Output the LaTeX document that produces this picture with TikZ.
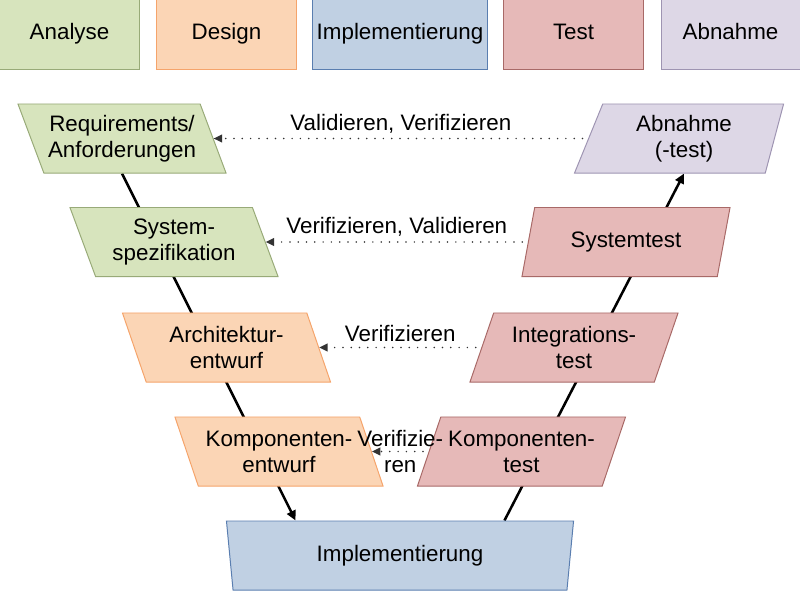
\documentclass[tikz,border=0pt]{standalone}
\usepackage{fontspec}
\setmainfont{Liberation Sans}
\usetikzlibrary{shapes.geometric,arrows.meta,calc,backgrounds}

\definecolor{grnfill}{HTML}{D7E4BD}
\definecolor{grnline}{RGB}{152,170,120}
\definecolor{orafill}{HTML}{FBD5B5}
\definecolor{oraline}{RGB}{245,164,107}
\definecolor{blufill}{RGB}{192,208,227}
\definecolor{bluline}{RGB}{90,126,176}
\definecolor{redfill}{HTML}{E6B9B8}
\definecolor{redline}{RGB}{168,105,103}
\definecolor{viofill}{RGB}{221,215,230}
\definecolor{violine}{RGB}{158,148,178}

\tikzset{
  kopf/.style={draw, line width=0.7pt, minimum height=1.725cm, inner sep=2pt,
    text height=0.9em, text depth=0.15em},
  phase/.style={trapezium, trapezium stretches body, draw, line width=0.7pt,
    minimum height=1.725cm, minimum width=5.2cm, align=center, inner sep=2pt},
  links/.style={trapezium left angle=116.2, trapezium right angle=63.8},
  rechts/.style={trapezium left angle=63.8, trapezium right angle=116.2},
  vlinie/.style={line width=1.8pt, -{Triangle[length=7pt,width=6.5pt]}},
  pruef/.style={draw=black!80, line width=1.2pt, line cap=round,
    dash pattern=on 0pt off 5.9pt, shorten <=4pt,
    -{Triangle[length=6pt,width=5.5pt]}},
}

\begin{document}
\begin{tikzpicture}[x=0.025cm, y=-0.025cm, font=\fontsize{15.9}{18.6}\selectfont]
\useasboundingbox (0,0) rectangle (800,592);

% Kopfzeile
\foreach \name/\x/\w/\farbe/\txt in {ana/69.5/3.475cm/grn/Analyse,
    des/226.5/3.475cm/ora/Design, imp/400/4.35cm/blu/Implementierung,
    tst/573.5/3.475cm/red/Test, abk/730.5/3.475cm/vio/Abnahme} {
  \node[kopf, minimum width=\w, fill=\farbe fill, draw=\farbe line] (k\name) at (\x,34.5) {\txt};
}

% linker Ast
\node[phase, links, fill=grnfill, draw=grnline] (req) at (122,138.5) {Requirements/\\Anforderungen};
\node[phase, links, fill=grnfill, draw=grnline] (sys) at (174,242) {System-\\spezifikation};
\node[phase, links, fill=orafill, draw=oraline] (arch) at (226.5,347.5) {Architektur-\\entwurf};
\node[phase, links, fill=orafill, draw=oraline] (kompE) at (279,451.5) {Komponenten-\\entwurf};

% Spitze
\node[phase, trapezium left angle=104, trapezium right angle=104, minimum width=8.675cm,
  fill=blufill, draw=bluline] (impl) at (400,555.5) {Implementierung};

% rechter Ast
\node[phase, rechts, fill=redfill, draw=redline] (kompT) at (521.5,451.5) {Komponenten-\\test};
\node[phase, rechts, fill=redfill, draw=redline] (integ) at (574,347.5) {Integrations-\\test};
\node[phase, rechts, fill=redfill, draw=redline] (sysT) at (626,242) {Systemtest};
\node[phase, trapezium left angle=61.8, trapezium right angle=109.2, minimum width=5.225cm,
  fill=viofill, draw=violine] (abn) at (684,138.5) {Abnahme\\(-test)};

% V-Linie hinter den Knoten
\begin{scope}[on background layer]
\draw[vlinie] (req.south) -- ($(impl.top left corner)!0.2!(impl.top right corner)$);
\draw[vlinie] ($(impl.top left corner)!0.8!(impl.top right corner)$) -- (abn.south);
\end{scope}

% Pruefungen
\draw[pruef] (abn.west) -- node[above] {Validieren, Verifizieren} (req.east);
\draw[pruef] (sysT.west) -- node[above] {Verifizieren, Validieren} (sys.east);
\draw[pruef] (integ.west) -- node[above] {Verifizieren} (arch.east);
\draw[pruef] (kompT.west) -- node[align=center] {Verifizie-\\ren} (kompE.east);
\end{tikzpicture}
\end{document}
